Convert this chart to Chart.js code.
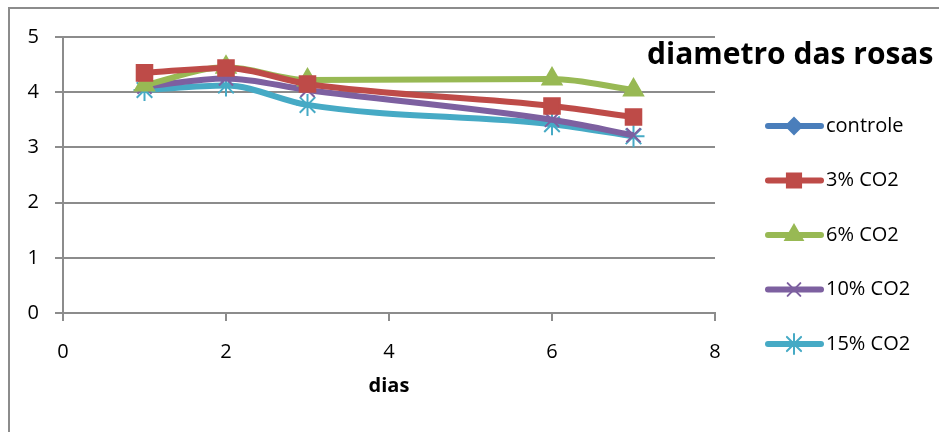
<!DOCTYPE html>
<html>
<head>
<meta charset="utf-8">
<script src="https://cdn.jsdelivr.net/npm/chart.js@4"></script>
<style>
  body { margin: 0; background: #fff; overflow: hidden; }
  #wrap { position: relative; width: 939px; height: 432px; }
  #frame { position: absolute; left: 8px; top: 7px; width: 960px; height: 460px; border: 2px solid #8c8c8c; }
  canvas { position: absolute; left: 0; top: 0; }
</style>
</head>
<body>
<div id="wrap">
  <div id="frame"></div>
  <canvas id="myChart" width="939" height="432"></canvas>
</div>
<script>
// dias de armazenamento
const dias = [1, 2, 3, 6, 7];

// diametro das rosas por tratamento
const controle = [];
const co2_3 = [4.35, 4.44, 4.15, 3.75, 3.55];
const co2_6 = [4.13, 4.45, 4.22, 4.24, 4.04];
const co2_10 = [4.10, 4.25, 4.04, 3.50, 3.22];
const co2_15 = [4.04, 4.12, 3.77, 3.42, 3.20];

const xTicks = [0, 2, 4, 6, 8];
const yTicks = [0, 1, 2, 3, 4, 5];

function pts(ys) {
    let out = [];
    for (let i = 0; i < ys.length; i++) {
        out.push({x: dias[i], y: ys[i]});
    }
    return out;
}

const series = [
    {label: 'controle', data: controle, color: '#4a7ebb', style: 'rectRot', r: 9},
    {label: '3% CO2', data: co2_3, color: '#be4b48', style: 'rect', r: 11},
    {label: '6% CO2', data: co2_6, color: '#98b954', style: 'triangle', r: 11},
    {label: '10% CO2', data: co2_10, color: '#7d60a0', style: 'crossRot', r: 10},
    {label: '15% CO2', data: co2_15, color: '#46aac5', style: 'star', r: 11}
];

const FONT = '"Open Sans", Lato, sans-serif';

// title + legend drawn like the excel chart
const excelDecor = {
    id: 'excelDecor',
    afterDraw(chart) {
        const ctx = chart.ctx;
        ctx.save();
        ctx.fillStyle = '#000';
        ctx.font = 'bold 30px ' + FONT;
        ctx.textBaseline = 'middle';
        ctx.textAlign = 'left';
        ctx.fillText('diametro das rosas', 647, 55);

        ctx.font = '20px ' + FONT;
        for (let i = 0; i < series.length; i++) {
            const s = series[i];
            const y = 126 + i * 54.5;
            ctx.strokeStyle = s.color;
            ctx.lineWidth = 6;
            ctx.lineCap = 'round';
            ctx.beginPath();
            ctx.moveTo(768, y);
            ctx.lineTo(821, y);
            ctx.stroke();
            ctx.fillStyle = s.color;
            ctx.lineWidth = 2;
            Chart.helpers.drawPoint(ctx, {pointStyle: s.style, radius: s.r - 1, borderWidth: 2}, 794, y);
            ctx.fillStyle = '#000';
            ctx.fillText(s.label, 826, y);
        }
        ctx.restore();
    }
};

const datasets = series.map(s => ({
    label: s.label,
    data: pts(s.data),
    borderColor: s.color,
    backgroundColor: s.color,
    borderWidth: 6,
    pointStyle: s.style,
    pointRadius: s.r,
    pointBorderWidth: 2,
    tension: 0.4,
    cubicInterpolationMode: 'monotone'
}));

const config = {
    type: 'line',
    data: {datasets: datasets},
    plugins: [excelDecor],
    options: {
        responsive: false,
        animation: false,
        layout: {padding: {left: 0, top: 37, right: 224, bottom: 30}},
        plugins: {legend: {display: false}, title: {display: false}, tooltip: {enabled: false}},
        scales: {
            x: {
                type: 'linear',
                min: 0, max: 8,
                afterBuildTicks: axis => { axis.ticks = xTicks.map(v => ({value: v})); },
                afterFit: axis => { axis.height = 89; },
                grid: {drawOnChartArea: false, color: '#8c8c8c', lineWidth: 2, tickLength: 8},
                border: {color: '#8c8c8c', width: 2},
                ticks: {color: '#000', font: {family: FONT, size: 20}, padding: 19, maxRotation: 0},
                title: {display: true, text: 'dias', color: '#000', font: {family: FONT, size: 20, weight: 'bold'}, padding: {top: 4, bottom: 4}}
            },
            y: {
                min: 0, max: 5,
                afterBuildTicks: axis => { axis.ticks = yTicks.map(v => ({value: v})); },
                afterFit: axis => { axis.width = 63; },
                grid: {color: '#8c8c8c', lineWidth: 2, tickLength: 8},
                border: {color: '#8c8c8c', width: 2},
                ticks: {color: '#000', font: {family: FONT, size: 20}, padding: 16}
            }
        }
    }
};

new Chart(document.getElementById('myChart'), config);
</script>
</body>
</html>
